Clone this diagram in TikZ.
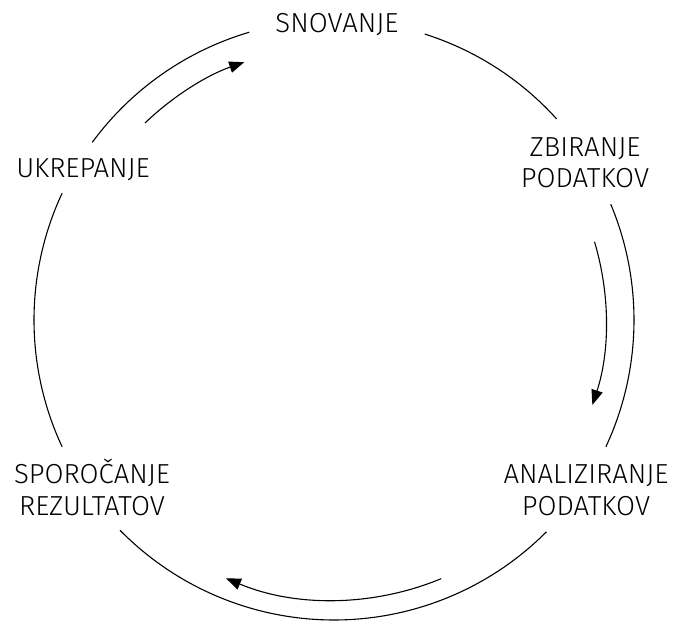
\documentclass[tikz,border=0pt]{standalone}
\usepackage{fontspec}
\setmainfont{Fira Sans Light}
\usetikzlibrary{arrows.meta}
\begin{document}
\begin{tikzpicture}[x=1pt,y=1pt,
  ring/.style={line width=1.1pt},
  flow/.style={line width=1.1pt,-{Triangle[length=15pt,width=11.5pt]}},
  stage/.style={font=\fontsize{27.5}{31.5}\selectfont,align=center,anchor=base,inner sep=0pt}]
  \useasboundingbox (0,0) rectangle (675,622);
  \coordinate (c) at (334,302);

  % stage labels (anchor sits on the baseline of the last line)
  \node[stage] (plan)    at (337,589) {SNOVANJE};
  \node[stage] (collect) at (585,434) {ZBIRANJE\\PODATKOV};
  \node[stage] (analyse) at (586,107) {ANALIZIRANJE\\PODATKOV};
  \node[stage] (report)  at (92,107)  {SPOROČANJE\\REZULTATOV};
  \node[stage] (act)     at (83,444)  {UKREPANJE};

  % outer ring, broken at every label
  \draw[ring] (c) ++(72.4:300)   arc[start angle=72.4,  end angle=42.1,   radius=300];
  \draw[ring] (c) ++(22.7:300)   arc[start angle=22.7,  end angle=-25,    radius=300];
  \draw[ring] (c) ++(-44.9:300)  arc[start angle=-44.9, end angle=-135.5, radius=300];
  \draw[ring] (c) ++(-155:300)   arc[start angle=-155,  end angle=-205,   radius=300];
  \draw[ring] (c) ++(143.7:300)  arc[start angle=143.7, end angle=106.4,  radius=300];

  % inner direction arrows
  \draw[flow] (c) ++(133.8:273) arc[start angle=133.8, end angle=109.2, radius=273];
  \draw[flow] (c) ++(16.7:272)  arc[start angle=16.7,  end angle=-18.2, radius=272];
  \draw[flow] (c) ++(-67.5:280) arc[start angle=-67.5, end angle=-112.7, radius=280];
\end{tikzpicture}
\end{document}
